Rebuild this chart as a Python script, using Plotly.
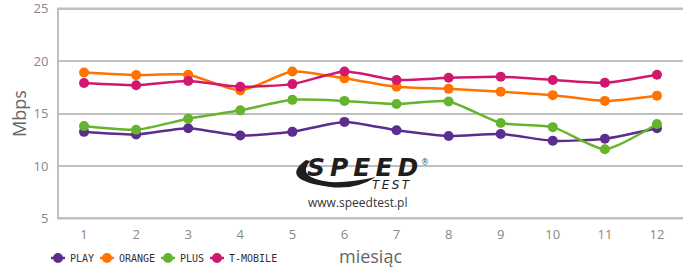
import plotly.graph_objects as go

months = [1, 2, 3, 4, 5, 6, 7, 8, 9, 10, 11, 12]
series_names = ["PLAY", "ORANGE", "PLUS", "T-MOBILE"]
play = [13.25, 13.0, 13.6, 12.9, 13.25, 14.2, 13.4, 12.85, 13.05, 12.4, 12.6, 13.6]
orange = [18.9, 18.66, 18.7, 17.2, 19.0, 18.35, 17.55, 17.35, 17.07, 16.75, 16.2, 16.7]
plus = [13.8, 13.45, 14.5, 15.3, 16.3, 16.2, 15.9, 16.15, 14.1, 13.7, 11.6, 14.0]
tmobile = [17.9, 17.7, 18.1, 17.55, 17.8, 19.0, 18.2, 18.4, 18.5, 18.2, 17.93, 18.7]
colors = ["#5b2d8e", "#ff7300", "#66b32e", "#d0186e"]
y_min, y_max, y_step = 5, 25, 5

W, H = 698, 272
L, R, T, B = 58, 15, 7, 52
PW, PH = W - L - R, H - T - B
YMIN, YMAX = y_min - 0.15, y_max + 0.15

def px(x):
    return (x - L) / PW

def py(y):
    return (H - B - y) / PH

def vy(v):
    return (v - YMIN) / (YMAX - YMIN)

fig = go.Figure()
for name, vals, col in zip(series_names, [play, orange, plus, tmobile], colors):
    fig.add_trace(go.Scatter(
        x=months, y=vals, name=name, mode="lines+markers",
        line=dict(color=col, width=2.5, shape="spline", smoothing=0.6),
        marker=dict(color=col, size=10), showlegend=False,
    ))

shapes = []
annotations = []

# boundary grid lines (5 and 25) and left axis line
for v in (y_min, y_max):
    shapes.append(dict(type="line", xref="paper", yref="paper", x0=0, x1=1, y0=vy(v), y1=vy(v),
                       line=dict(color="#bfbfbf", width=2), layer="between"))
shapes.append(dict(type="line", xref="paper", yref="paper", x0=0, x1=0,
                   y0=vy(y_min) - 0.004, y1=vy(y_max) + 0.004,
                   line=dict(color="#bfbfbf", width=2), layer="between"))
# white patch behind logo
shapes.append(dict(type="rect", xref="paper", yref="paper",
                   x0=px(293), x1=px(428), y0=py(173), y1=py(158),
                   fillcolor="white", line=dict(width=0), layer="between"))
# swoosh
oy = H - B
shapes.append(dict(type="path", xref="paper", yref="paper",
                   xsizemode="pixel", ysizemode="pixel", xanchor=0, yanchor=0,
                   path=("M 248,{a} Q 220,{b} 272,{c} Q 298,{d} 318,{e} Q 292,{f} 272,{g} Q 238,{h} 252,{i} Z"
                         .format(a=oy - 160, b=oy - 180, c=oy - 187, d=oy - 190, e=oy - 177,
                                 f=oy - 183, g=oy - 182, h=oy - 178, i=oy - 161)),
                   fillcolor="#1e1e1e", line=dict(width=0), layer="above"))

hs = "\u2009"
annotations += [
    dict(text="<b><i>" + hs.join("SPEED") + "</i></b>", x=px(362), y=py(167), xref="paper", yref="paper",
         showarrow=False, font=dict(family="DejaVu Sans", size=25, color="#1e1e1e"),
         xanchor="center", yanchor="middle"),
    dict(text="<i>" + hs.join("TEST") + "</i>", x=px(391), y=py(185), xref="paper", yref="paper",
         showarrow=False, font=dict(family="DejaVu Sans", size=12, color="#1e1e1e"),
         xanchor="center", yanchor="middle"),
    dict(text="®", x=px(425), y=py(162), xref="paper", yref="paper",
         showarrow=False, font=dict(family="DejaVu Sans", size=8, color="#555"),
         xanchor="center", yanchor="middle"),
    dict(text="www.speedtest.pl", x=px(357), y=py(202), xref="paper", yref="paper",
         showarrow=False, font=dict(family="Open Sans", size=12, color="#333"),
         xanchor="center", yanchor="middle"),
]

# custom legend
lx = 58
ly = 258
for name, col in zip(series_names, colors):
    shapes.append(dict(type="line", xref="paper", yref="paper",
                       x0=px(lx - 7), x1=px(lx + 7), y0=py(ly), y1=py(ly),
                       line=dict(color=col, width=2.5)))
    shapes.append(dict(type="circle", xref="paper", yref="paper",
                       xsizemode="pixel", ysizemode="pixel",
                       xanchor=px(lx), yanchor=py(ly), x0=-5, x1=5, y0=-5, y1=5,
                       fillcolor=col, line=dict(width=0)))
    annotations.append(dict(text=name, x=px(lx + 10), y=py(ly), xref="paper", yref="paper",
                            showarrow=False, xanchor="left", yanchor="middle",
                            font=dict(family="DejaVu Sans Mono", size=10, color="#333")))
    lx = lx + 10 + 6 * len(name) + 15

fig.update_layout(
    width=W, height=H, margin=dict(l=L, r=R, t=T, b=B, autoexpand=False),
    paper_bgcolor="white", plot_bgcolor="white",
    shapes=shapes, annotations=annotations,
    font=dict(family="Open Sans", color="#888"),
    xaxis=dict(range=[0.5, 12.5], tickvals=months, showgrid=False, zeroline=False,
               showline=False, automargin=False, tickfont=dict(size=13, color="#888"),
               ticks="outside", ticklen=2, tickcolor="rgba(0,0,0,0)",
               title=dict(text="miesiąc", font=dict(size=18, color="#666"), standoff=8)),
    yaxis=dict(range=[YMIN, YMAX], tickmode="linear", tick0=y_min, dtick=y_step,
               showgrid=True, gridcolor="#bfbfbf", ticklabeloverflow="allow",
               gridwidth=2, zeroline=False, showline=False, automargin=False,
               tickfont=dict(size=13, color="#888"),
               ticks="outside", ticklen=6, tickcolor="rgba(0,0,0,0)",
               title=dict(text="Mbps", font=dict(size=18, color="#666"), standoff=2)),
)

fig.write_html("out.html")
